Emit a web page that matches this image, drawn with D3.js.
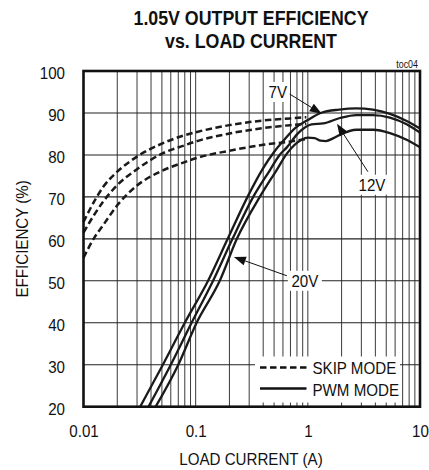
<!DOCTYPE html>
<html><head><meta charset="utf-8">
<script src="https://cdn.jsdelivr.net/npm/d3@7"></script>
<style>
body{margin:0;background:#fff}
svg{display:block}
text{font-family:"Liberation Sans", Arial, Helvetica, sans-serif; fill:#111}
</style>
</head><body>
<svg id="c" width="429" height="470"></svg>
<script>
// ---------- data ----------
const xTickValues = [0.01, 0.1, 1, 10];
const xTickLabels = ["0.01", "0.1", "1", "10"];
const yTickValues = [20, 30, 40, 50, 60, 70, 80, 90, 100];

// SKIP MODE (dashed)
const skipCurrent = [0.01, 0.0125, 0.015, 0.02, 0.03, 0.05, 0.08, 0.1, 0.2, 0.4, 0.7, 0.97];
const skip7V  = [64.0, 69.0, 72.4, 76.0, 79.6, 82.7, 84.7, 85.4, 87.1, 88.2, 88.7, 89.0];
const skip12V = [61.5, 65.8, 68.9, 72.8, 76.6, 80.3, 82.3, 83.2, 85.1, 86.4, 87.1, 87.4];
const skip20V = [55.5, 60.3, 63.3, 68.0, 72.7, 76.2, 78.3, 79.2, 81.0, 82.4, 83.2, 83.8];

// PWM MODE (solid)
const pwm7VCurrent  = [0.032, 0.051, 0.08, 0.129, 0.193, 0.29, 0.39, 0.5, 0.62, 0.77, 1.0, 1.3, 1.9, 2.7, 3.8, 5.4, 7.6, 10];
const pwm7V         = [20, 30, 40, 50, 60, 70, 76.4, 80.7, 83.7, 86.4, 88.3, 90.0, 90.8, 91.1, 90.8, 89.8, 88.1, 86.3];
const pwm12VCurrent = [0.038, 0.06, 0.092, 0.143, 0.213, 0.326, 0.46, 0.56, 0.65, 0.82, 1.08, 1.37, 1.93, 2.7, 3.8, 5.4, 7.6, 10];
const pwm12V        = [20, 30, 40, 50, 60, 70, 76.4, 80.0, 81.8, 85.2, 87.3, 87.5, 88.8, 89.5, 89.5, 88.9, 87.3, 85.3];
const pwm20VCurrent = [0.044, 0.07, 0.102, 0.164, 0.233, 0.373, 0.527, 0.65, 0.88, 1.0, 1.15, 1.3, 1.45, 1.69, 1.93, 2.72, 3.83, 5.4, 7.6, 10];
const pwm20V        = [20, 30, 40, 50, 60, 70, 76.4, 80.3, 83.6, 84.1, 84.0, 83.4, 83.3, 84.0, 84.8, 86.0, 86.0, 85.2, 83.6, 81.8];

// annotations (data coordinates): label position, arrow start, arrow tip
const annLabels = ["7V", "12V", "20V"];
const annLabelPos = [[0.54, 95.0], [3.73, 72.9], [0.94, 50.0]];
const annFrom = [[0.69, 94.5], [3.43, 76.0], [0.65, 51.2]];
const annTo   = [[1.33, 89.8], [1.82, 87.4], [0.219, 55.7]];

// ---------- layout ----------
const svg = d3.select("#c");
const L = 83.5, R = 420, T = 71, B = 406.7;
const SX = 0.89; // horizontal text condensation
const x = d3.scaleLog().domain([0.01, 10]).range([L, R]);
const y = d3.scaleLinear().domain([20, 100]).range([B, T]);

function ctext(px, py, str, size, anchor, weight) {
  return svg.append("text")
    .attr("transform", `translate(${px},${py}) scale(${SX},1)`)
    .attr("text-anchor", anchor || "start")
    .attr("font-size", size)
    .attr("font-weight", weight || "normal")
    .text(str);
}

// title
svg.append("text").attr("x", 251).attr("y", 25).attr("text-anchor", "middle")
  .attr("font-size", 20).attr("font-weight", "bold")
  .attr("textLength", 235).attr("lengthAdjust", "spacingAndGlyphs")
  .text("1.05V OUTPUT EFFICIENCY");
svg.append("text").attr("x", 251).attr("y", 48).attr("text-anchor", "middle")
  .attr("font-size", 20).attr("font-weight", "bold")
  .attr("textLength", 172).attr("lengthAdjust", "spacingAndGlyphs")
  .text("vs. LOAD CURRENT");
ctext(418, 67.5, "toc04", 10, "end");

// grid
const grid = svg.append("g");
const minor = x.ticks().filter(v => v > 0.01 && v < 10);
grid.selectAll("line.v").data(minor).join("line")
  .attr("x1", d => x(d)).attr("x2", d => x(d)).attr("y1", T).attr("y2", B)
  .attr("stroke", "#3a3a3a").attr("stroke-width", 1);
grid.selectAll("line.h").data(yTickValues.filter(v => v > 20 && v < 100)).join("line")
  .attr("x1", L).attr("x2", R).attr("y1", d => y(d)).attr("y2", d => y(d))
  .attr("stroke", "#222").attr("stroke-width", 1.1);

// white boxes (legend, labels)
svg.append("rect").attr("x", 255).attr("y", 356.5).attr("width", 145).attr("height", 46).attr("fill", "#fff");
const labelBoxW = [24, 30, 34], labelBoxH = 20;
annLabels.forEach((t, i) => {
  const cx = x(annLabelPos[i][0]), cy = y(annLabelPos[i][1]);
  svg.append("rect").attr("x", cx - labelBoxW[i] / 2).attr("y", cy - labelBoxH / 2)
    .attr("width", labelBoxW[i]).attr("height", labelBoxH).attr("fill", "#fff");
});

// curves
const line = d3.line().x(d => x(d[0])).y(d => y(d[1])).curve(d3.curveMonotoneX);
const skipSeries = [skip7V, skip12V, skip20V];
skipSeries.forEach(s => {
  svg.append("path").datum(skipCurrent.map((c, i) => [c, s[i]]))
    .attr("d", line).attr("fill", "none").attr("stroke", "#1a1a1a")
    .attr("stroke-width", 2.5).attr("stroke-dasharray", "6.5,3.5");
});
const pwmSeries = [[pwm7VCurrent, pwm7V], [pwm12VCurrent, pwm12V], [pwm20VCurrent, pwm20V]];
pwmSeries.forEach(([cs, es]) => {
  svg.append("path").datum(cs.map((c, i) => [c, es[i]]))
    .attr("d", line).attr("fill", "none").attr("stroke", "#1a1a1a")
    .attr("stroke-width", 2.3);
});

// annotations
annLabels.forEach((t, i) => {
  const cx = x(annLabelPos[i][0]), cy = y(annLabelPos[i][1]);
  ctext(cx, cy + 6, t, 17, "middle");
  const x1 = x(annFrom[i][0]), y1 = y(annFrom[i][1]);
  const x2 = x(annTo[i][0]), y2 = y(annTo[i][1]);
  const ang = Math.atan2(y2 - y1, x2 - x1);
  const hl = 12, hw = 4.5;
  const bx = x2 - hl * Math.cos(ang), by = y2 - hl * Math.sin(ang);
  svg.append("line").attr("x1", x1).attr("y1", y1).attr("x2", bx).attr("y2", by)
    .attr("stroke", "#111").attr("stroke-width", 1);
  svg.append("path")
    .attr("d", `M${x2},${y2}L${bx - hw * Math.sin(ang)},${by + hw * Math.cos(ang)}L${bx + hw * Math.sin(ang)},${by - hw * Math.cos(ang)}Z`)
    .attr("fill", "#111");
});

// legend
svg.append("line").attr("x1", 260).attr("x2", 306.5).attr("y1", 367.5).attr("y2", 367.5)
  .attr("stroke", "#111").attr("stroke-width", 2.3).attr("stroke-dasharray", "6.5,3.5");
ctext(312.5, 374, "SKIP MODE", 17, "start");
svg.append("line").attr("x1", 260).attr("x2", 306.5).attr("y1", 388.5).attr("y2", 388.5)
  .attr("stroke", "#111").attr("stroke-width", 2.3);
ctext(312.5, 395.5, "PWM MODE", 17, "start");

// frame
svg.append("rect").attr("x", L).attr("y", T).attr("width", R - L).attr("height", B - T)
  .attr("fill", "none").attr("stroke", "#111").attr("stroke-width", 2.6);

// axes (labels only)
const yAxis = svg.append("g").attr("transform", `translate(${L},0)`)
  .call(d3.axisLeft(y).tickValues(yTickValues).tickSize(0).tickPadding(18.5 / SX));
yAxis.select(".domain").remove();
yAxis.selectAll("text").attr("font-size", 17).attr("dy", "0.43em")
  .attr("transform", `scale(${SX},1)`).attr("font-family", null);

const xAxis = svg.append("g").attr("transform", `translate(0,${B})`)
  .call(d3.axisBottom(x).tickValues(xTickValues).tickSize(0).tickPadding(18.2)
    .tickFormat((d, i) => xTickLabels[i]));
xAxis.select(".domain").remove();
xAxis.selectAll("text").attr("font-size", 17).attr("font-family", null);
xAxis.selectAll(".tick").each(function () {
  const t = d3.select(this).select("text");
  t.attr("transform", `scale(${SX},1)`);
});

// axis titles
ctext(251, 465, "LOAD CURRENT (A)", 17, "middle");
svg.append("text").attr("transform", `translate(28,${(T + B) / 2}) rotate(-90) scale(${SX},1)`)
  .attr("text-anchor", "middle").attr("font-size", 17).text("EFFICIENCY (%)");
</script>
</body></html>
